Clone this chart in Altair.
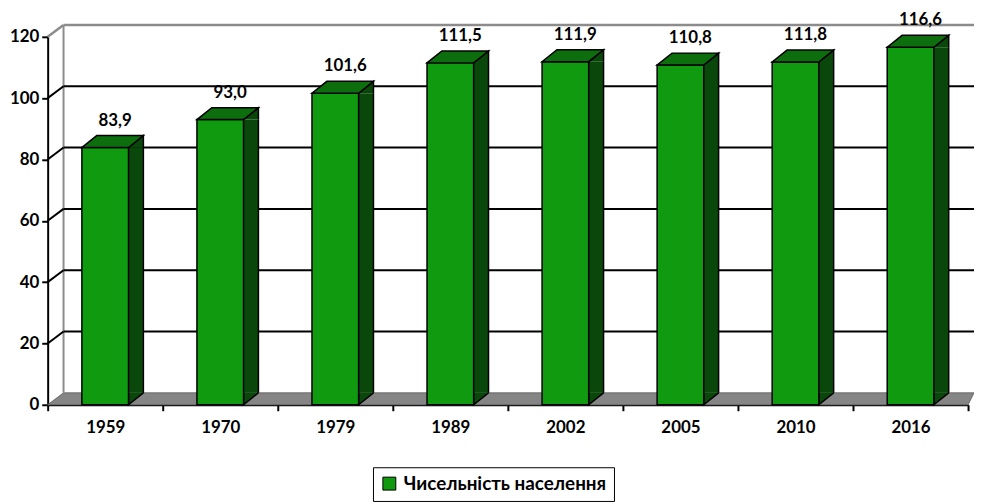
import altair as alt
import pandas as pd

# ---- data ----
years = ["1959", "1970", "1979", "1989", "2002", "2005", "2010", "2016"]
values = [83.9, 93.0, 101.6, 111.5, 111.9, 110.8, 111.8, 116.6]
labels = ["83,9", "93,0", "101,6", "111,5", "111,9", "110,8", "111,8", "116,6"]
series_name = "Чисельність населення"
y_ticks = [0, 20, 40, 60, 80, 100, 120]

df = pd.DataFrame({"year": years, "value": values, "label": labels,
                   "series": series_name, "zero": 0})
grid_df = pd.DataFrame({"tick": y_ticks})
floor_df = pd.DataFrame({"zero": [0]})
top_df = pd.DataFrame({"top": [max(y_ticks)], "zero": [0]})

# ---- style ----
W, H = 928, 371
DX, DY = 15, -12      # bar depth
WX = 16               # wall depth
BAR_W = 47
HALF = BAR_W / 2
FRONT = "#109a10"
TOP = "#0c6e0c"
SIDE = "#0a470a"
FONT = "Lato, 'Noto Sans', sans-serif"

yscale = alt.Scale(domain=[0, 120], nice=False, zero=True)
xscale = alt.Scale(domain=years, paddingInner=0, paddingOuter=0)

x_axis = alt.Axis(title=None, tickBand="extent", labelAngle=0,
                  domainColor="black", domainWidth=2, tickColor="black",
                  tickWidth=2, tickSize=6, labelFont=FONT, labelFontSize=17,
                  labelFontWeight="bold", labelColor="black", labelPadding=9)
y_axis = alt.Axis(title=None, values=y_ticks, grid=False, domainColor="black",
                  domainWidth=2, tickColor="black", tickWidth=2, tickSize=6,
                  labelFont=FONT, labelFontSize=17, labelFontWeight="bold",
                  labelColor="black", labelPadding=3)

X = alt.X("year:N", sort=years, scale=xscale, axis=x_axis)


def Yf(field):
    return alt.Y(field, scale=yscale, axis=y_axis)


def sym(path, **kw):
    return dict(shape=path, size=4, opacity=1, strokeJoin="miter", **kw)


# floor
floor_path = f"M 0 0 L {WX} {DY} L {W + 6} {DY} L {W} 0 Z"
floor = alt.Chart(floor_df).mark_point(**sym(floor_path, filled=True, fill="#858585",
                                             stroke="#6a6a6a", strokeWidth=1)).encode(
    x=alt.value(0), y=Yf("zero:Q"))

# back wall left edge
wall_left = alt.Chart(top_df).mark_rule(color="#8c8c8c", strokeWidth=2,
                                        yOffset=DY, y2Offset=DY).encode(
    x=alt.value(WX), y=Yf("top:Q"), y2="zero:Q")

# back gridlines
grid_inner = alt.Chart(grid_df).transform_filter(
    "datum.tick > 0 && datum.tick < 120").mark_rule(
    color="black", strokeWidth=2, yOffset=DY).encode(
    x=alt.value(WX), x2=alt.value(W + 6), y=Yf("tick:Q"))
grid_top = alt.Chart(grid_df).transform_filter("datum.tick == 120").mark_rule(
    color="#8c8c8c", strokeWidth=2.5, yOffset=DY).encode(
    x=alt.value(WX), x2=alt.value(W + 6), y=Yf("tick:Q"))

diag_path = f"M 0 0 L {WX} {DY}"
diag_inner = alt.Chart(grid_df).transform_filter(
    "datum.tick > 0 && datum.tick < 120").mark_point(
    **sym(diag_path, filled=False, stroke="black", strokeWidth=2)).encode(
    x=alt.value(0), y=Yf("tick:Q"))
diag_top = alt.Chart(grid_df).transform_filter("datum.tick == 120").mark_point(
    **sym(diag_path, filled=False, stroke="#8c8c8c", strokeWidth=2.5)).encode(
    x=alt.value(0), y=Yf("tick:Q"))

base = alt.Chart(df)

side_rect = base.mark_bar(size=DX, xOffset=HALF + DX / 2, y2Offset=DY,
                          fill=SIDE, strokeWidth=0).encode(
    x=X, y=Yf("value:Q"), y2="zero:Q")

side_bottom = base.mark_point(**sym(f"M {HALF} {DY} L {HALF} 0 L {HALF + DX} {DY}",
                                    filled=True, fill=SIDE, stroke="black",
                                    strokeWidth=1.5)).encode(
    x=X, y=Yf("zero:Q"))

side_top = base.mark_point(**sym(f"M {HALF} 0 L {HALF + DX} {DY} L {HALF + DX} 0",
                                 filled=True, fill=SIDE, stroke="black",
                                 strokeWidth=1.5)).encode(
    x=X, y=Yf("value:Q"))

side_edge = base.mark_rule(color="black", strokeWidth=1.5, xOffset=HALF + DX,
                           y2Offset=DY).encode(
    x=X, y=Yf("value:Q"), y2="zero:Q")

front = base.mark_bar(size=BAR_W, stroke="black", strokeWidth=1.5).encode(
    x=X, y=Yf("value:Q"), y2="zero:Q",
    color=alt.Color("series:N", scale=alt.Scale(domain=[series_name], range=[FRONT]),
                    legend=alt.Legend(title=None, orient="none", legendX=328, legendY=434,
                                      symbolType="square", symbolSize=170,
                                      symbolStrokeColor="black", symbolStrokeWidth=1,
                                      labelFont=FONT, labelFontSize=19,
                                      labelFontWeight="bold", labelColor="black",
                                      strokeColor="black", fillColor="white",
                                      padding=7, labelOffset=5, labelLimit=400)))

top_face = base.mark_point(**sym(
    f"M {-HALF} 0 L {HALF} 0 L {HALF + DX} {DY} L {-HALF + DX} {DY} Z",
    filled=True, fill=TOP, stroke="black", strokeWidth=1.5)).encode(
    x=X, y=Yf("value:Q"))

value_text = base.mark_text(dx=10, dy=-27, font=FONT, fontSize=17, fontWeight="bold",
                            color="black").encode(
    x=X, y=Yf("value:Q"), text="label:N")

chart = alt.layer(
    floor, wall_left, grid_inner, grid_top, diag_inner, diag_top,
    side_rect, side_bottom, side_top, side_edge, front, top_face, value_text
).properties(
    width=W, height=H, autosize="none",
    padding={"left": 40, "top": 27, "right": 6, "bottom": 98},
    background="white"
).configure_view(stroke=None)

chart.save("out.html", embed_options={"renderer": "svg", "actions": False})
